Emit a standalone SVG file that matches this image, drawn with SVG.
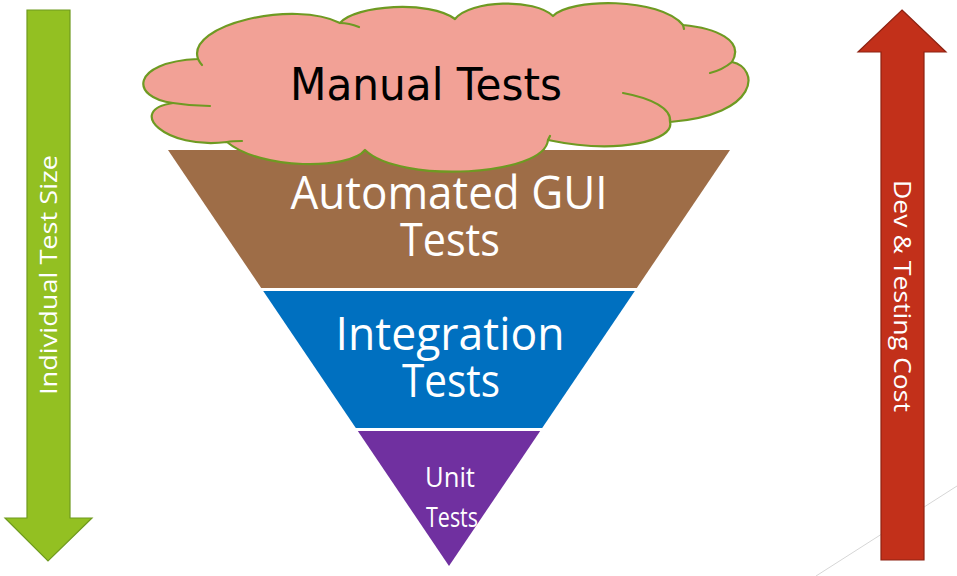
<svg xmlns="http://www.w3.org/2000/svg" width="957" height="576" viewBox="0 0 957 576">
<style>
.lbl{font-family:"Open Sans","Noto Sans","DejaVu Sans",sans-serif;fill:#ffffff}
.cl{fill:none;stroke:#6E9A22;stroke-width:2.2;stroke-linecap:round}
</style>
<rect width="957" height="576" fill="#ffffff"/>
<g id="deco">
<line x1="816" y1="576" x2="957" y2="486" stroke="#D6D6D6" stroke-width="1"/>
</g>
<g id="gui">
<polygon points="168,150 730,150 636.8,288 261.2,288" fill="#9E6D47"/>
<text class="lbl" x="449" y="209" font-size="46" text-anchor="middle" textLength="317" lengthAdjust="spacingAndGlyphs">Automated GUI</text>
<text class="lbl" x="450" y="256" font-size="46" text-anchor="middle" textLength="100" lengthAdjust="spacingAndGlyphs">Tests</text>
</g>
<g id="integration">
<polygon points="263.2,291 634.8,291 542.2,428 355.8,428" fill="#0070C0"/>
<text class="lbl" x="450" y="350" font-size="46" text-anchor="middle" textLength="229" lengthAdjust="spacingAndGlyphs">Integration</text>
<text class="lbl" x="451" y="397" font-size="46" text-anchor="middle" textLength="98" lengthAdjust="spacingAndGlyphs">Tests</text>
</g>
<g id="unit">
<polygon points="357.8,431 540.2,431 449,566" fill="#7030A0"/>
<text class="lbl" x="450" y="487" font-size="27" text-anchor="middle" textLength="50" lengthAdjust="spacingAndGlyphs">Unit</text>
<text class="lbl" x="452" y="527" font-size="27" text-anchor="middle" textLength="52" lengthAdjust="spacingAndGlyphs">Tests</text>
</g>
<g id="manual">
<path d="M198,59 C186,24 295,0 340,23 C355,5 430,0 455,19 C470,0 535,-2 553,16 C570,-2 660,-3 683,25 C715,28 745,40 732,62 C760,68 760,115 670,122 C675,140 620,155 548,140 C545,176 400,184 365,150 C350,170 260,170 227,142 C165,150 125,110 173,103 C130,98 130,62 198,59 Z" fill="#F2A196" stroke="#6E9A22" stroke-width="2.2" stroke-linejoin="round"/>
<path class="cl" d="M340,23 C348,23 354,25 359,27"/>
<path class="cl" d="M683,25 L684,29"/>
<path class="cl" d="M732,62 C726,67 718,71 710,73"/>
<path class="cl" d="M623,93 C650,98 672,108 670,122"/>
<path class="cl" d="M548,140 L550,136"/>
<path class="cl" d="M227,142 C232,141 237,141 242,141"/>
<path class="cl" d="M173,103 C185,105 198,106 210,106"/>
<path class="cl" d="M198,59 C199,61 200,63 202,65"/>
<text x="426" y="100" font-family="DejaVu Sans, 'Noto Sans', sans-serif" font-size="45" fill="#000000" text-anchor="middle" textLength="272" lengthAdjust="spacingAndGlyphs">Manual Tests</text>
</g>
<g id="size-arrow">
<polygon points="27,10 70,10 70,518 92,518 48,561 5,518 27,518" fill="#93C022" stroke="#6F9A1F" stroke-width="1.2"/>
<text class="lbl" transform="translate(57,275) rotate(-90)" font-size="24" text-anchor="middle" textLength="240" lengthAdjust="spacingAndGlyphs">Individual Test Size</text>
</g>
<g id="cost-arrow">
<polygon points="902,10 946,52 924,52 924,560 881,560 881,52 858,52" fill="#C2301A" stroke="#8E2212" stroke-width="1.2"/>
<text class="lbl" transform="translate(894,296) rotate(90)" font-size="24" text-anchor="middle" textLength="232" lengthAdjust="spacingAndGlyphs">Dev &amp; Testing Cost</text>
</g>
</svg>
